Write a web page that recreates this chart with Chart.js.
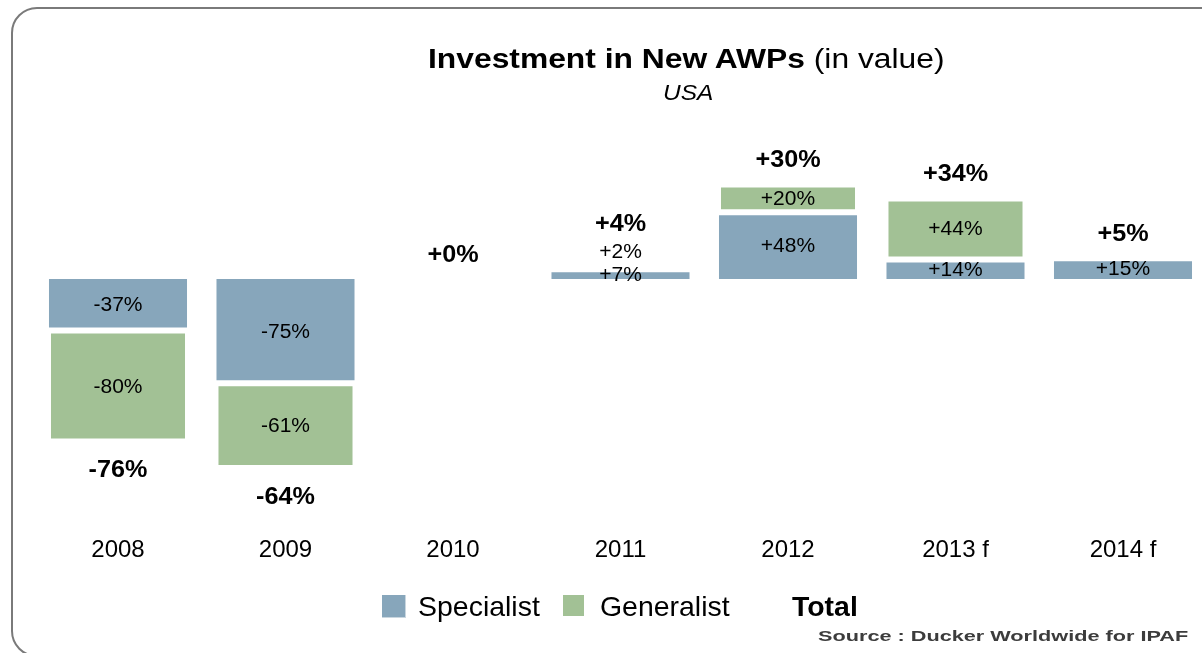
<!DOCTYPE html>
<html><head><meta charset="utf-8">
<script src="https://cdn.jsdelivr.net/npm/chart.js@4.4.1/dist/chart.umd.min.js"></script>
<style>
html,body{margin:0;padding:0;width:1202px;height:653px;overflow:hidden;background:#fff;}
#frame{position:absolute;left:11px;top:7px;width:1240px;height:650px;border:2px solid #7a7a7a;border-radius:26px;box-sizing:border-box;}
#wrap{position:absolute;left:0;top:0;width:1210px;height:653px;}
.t{position:absolute;white-space:nowrap;font-family:"Liberation Sans",Arial,sans-serif;color:#000;transform-origin:0 50%;line-height:1;}
.sw{position:absolute;}
</style></head>
<body>
<div id="frame"></div>
<div id="wrap"><canvas id="c" width="1210" height="653"></canvas></div>
<div class="t" id="title" style="font-size:27px;"><b>Investment in New AWPs</b> (in value)</div>
<div class="t" id="sub" style="font-size:22px;font-style:italic;">USA</div>
<div class="sw" style="left:382px;top:595px;width:23px;height:22px;background:#87A6BB;border-right:1px solid #c9d6df;border-bottom:1px solid #c9d6df;"></div>
<div class="t" id="lg1" style="font-size:28px;">Specialist</div>
<div class="sw" style="left:563px;top:595px;width:21px;height:21px;background:#A2C195;"></div>
<div class="t" id="lg2" style="font-size:28px;">Generalist</div>
<div class="t" id="lg3" style="font-size:28px;font-weight:bold;">Total</div>
<div class="t" id="src" style="font-size:15px;font-weight:bold;color:#3c3c3c;">Source : Ducker Worldwide for IPAF</div>
<script>
const categories = ['2008', '2009', '2010', '2011', '2012', '2013 f', '2014 f'];
const specialist = [-37, -75, 0, 7, 48, 14, 15];
const generalist = [-80, -61, 0, 2, 20, 44, null];
const totals = [-76, -64, 0, 4, 30, 34, 5];

function place(id, left, cy, targetW) {
  const el = document.getElementById(id);
  const w = el.offsetWidth, h = el.offsetHeight;
  el.style.left = left + 'px';
  el.style.top = (cy - h / 2) + 'px';
  el.style.transform = 'scaleX(' + (targetW / w) + ')';
}
place('title', 428, 59, 517);
place('sub', 663, 93, 50);
place('lg1', 418, 607, 122);
place('lg2', 600, 607, 130);
place('lg3', 792, 607, 66);
place('src', 818, 635, 370);

const fmt = v => (v >= 0 ? '+' : '') + v + '%';

function drawText(ctx, txt, x, y, font, sx) {
  ctx.save();
  ctx.translate(x, y);
  ctx.scale(sx, 1);
  ctx.font = font;
  ctx.fillText(txt, 0, 0);
  ctx.restore();
}

const labelPlugin = {
  id: 'labels',
  afterDatasetsDraw(chart) {
    const ctx = chart.ctx;
    const metas = [chart.getDatasetMeta(0), chart.getDatasetMeta(1)];
    const series = [specialist, generalist];
    const zero = chart.scales.y.getPixelForValue(0);
    ctx.save();
    ctx.fillStyle = '#000';
    ctx.textAlign = 'center';
    ctx.textBaseline = 'middle';
    const segFont = '20px "Liberation Sans", Arial, sans-serif';
    const totFont = 'bold 24px "Liberation Sans", Arial, sans-serif';
    categories.forEach((c, i) => {
      const x = metas[0].data[i].x;
      let top = zero, bottom = zero;
      const small = [];
      series.forEach((vals, d) => {
        const v = vals[i];
        if (v == null || v === 0) return;
        const el = metas[d].data[i];
        const y1 = Math.min(el.y, el.base), y2 = Math.max(el.y, el.base);
        top = Math.min(top, y1); bottom = Math.max(bottom, y2);
      });
      let extra = 0;
      series.forEach((vals, d) => {
        const v = vals[i];
        if (v == null || v === 0) return;
        const el = metas[d].data[i];
        const y1 = Math.min(el.y, el.base), y2 = Math.max(el.y, el.base);
        if (y2 - y1 >= 8) {
          drawText(ctx, fmt(v), x, (y1 + y2) / 2 + 1, segFont, 1.05);
        } else {
          small.push(v);
        }
      });
      small.forEach(v => {
        drawText(ctx, fmt(v), x, top - 14.5, segFont, 1.05);
        extra = 18.5;
      });
      const t = totals[i];
      if (t >= 0) {
        drawText(ctx, fmt(t), x, top - 24 - extra, totFont, 1.05);
      } else {
        drawText(ctx, fmt(t), x, bottom + 29, totFont, 1.05);
      }
    });
    ctx.restore();
  }
};

new Chart(document.getElementById('c'), {
  type: 'bar',
  data: {
    labels: categories,
    datasets: [
      {
        label: 'Specialist', data: specialist, backgroundColor: '#87A6BB', borderColor: '#ffffff',
        borderWidth: {top: 3, bottom: 3, left: 1, right: 1}, borderSkipped: 'start',
        barPercentage: 0.836, categoryPercentage: 1
      },
      {
        label: 'Generalist', data: generalist, backgroundColor: '#A2C195', borderColor: '#ffffff',
        borderWidth: 3, borderSkipped: false,
        barPercentage: 0.836, categoryPercentage: 1
      }
    ]
  },
  options: {
    responsive: false,
    animation: false,
    layout: {padding: {left: 34.25, right: 3.25, top: 120, bottom: 83}},
    plugins: {legend: {display: false}, tooltip: {enabled: false}},
    scales: {
      x: {
        stacked: true,
        grid: {display: false, drawTicks: false},
        border: {display: false},
        ticks: {color: '#000', font: {family: '"Liberation Sans", Arial, sans-serif', size: 24}, padding: 6, maxRotation: 0, autoSkip: false},
        afterFit(s) { s.height = 40; }
      },
      y: {stacked: true, display: false, min: -180.6, max: 114.4}
    }
  },
  plugins: [labelPlugin]
});
</script>
</body></html>
